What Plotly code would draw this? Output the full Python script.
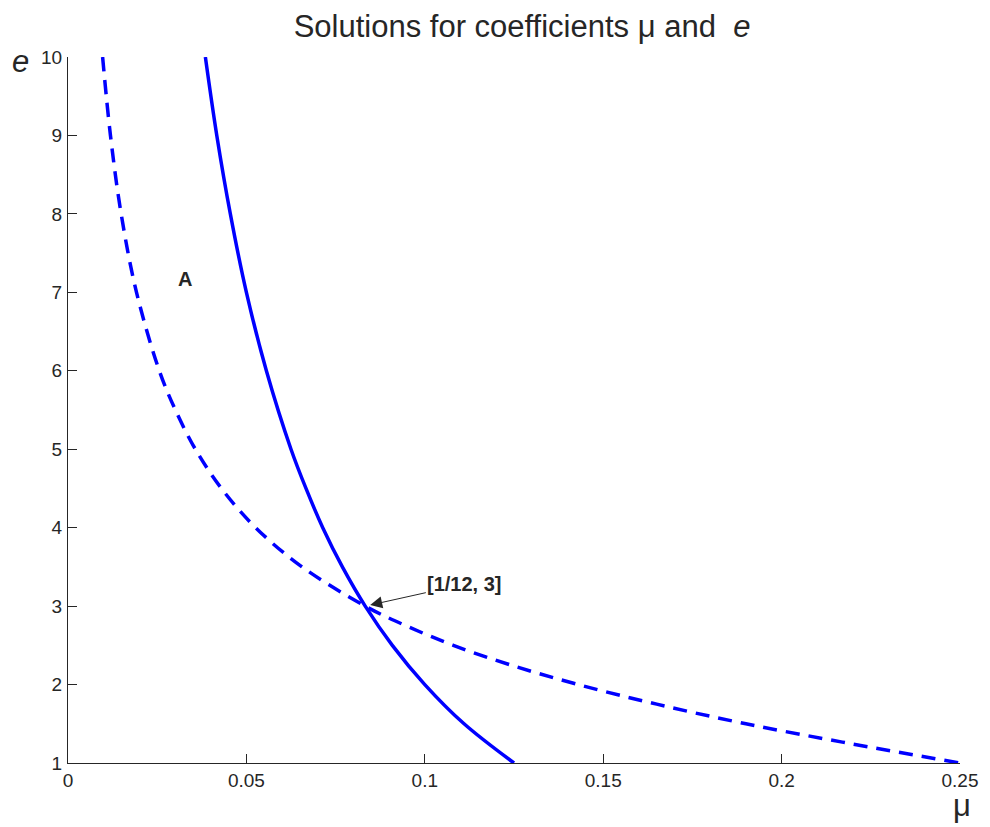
import plotly.graph_objects as go

# Dashed branch: e against mu
mu_dashed = [0.0097, 0.0119, 0.0149, 0.0192, 0.0256, 0.0301, 0.0357, 0.0430, 0.0526,
             0.0656, 0.0833, 0.0947, 0.108, 0.124, 0.143, 0.165, 0.190, 0.219, 0.250]
e_dashed = [10, 9, 8, 7, 6, 5.5, 5, 4.5, 4, 3.5, 3, 2.75, 2.5, 2.25, 2, 1.75, 1.5, 1.25, 1]

# Solid branch: e against mu
mu_solid = [0.0385, 0.0417, 0.0455, 0.0500, 0.0556, 0.0625, 0.0667, 0.0714, 0.0769,
            0.0833, 0.0909, 0.100, 0.111, 0.125]
e_solid = [10, 9, 8, 7, 6, 5, 4.5, 4, 3.5, 3, 2.5, 2, 1.5, 1]

# Intersection of the two branches
mu_cross, e_cross = 1 / 12, 3
cross_label = "[1/12, 3]"

# Region label
region_label = "A"
region_mu, region_e = 0.0329, 7.17

x_ticks = [0, 0.05, 0.1, 0.15, 0.2, 0.25]
x_tick_text = ["0", "0.05", "0.1", "0.15", "0.2", "0.25"]
y_ticks = list(range(1, 11))

BLUE = "#0000ff"
INK = "#262626"
FONT = "Liberation Sans, Arial, sans-serif"

fig = go.Figure()
fig.add_trace(go.Scatter(
    x=mu_dashed, y=e_dashed, mode="lines",
    line=dict(color=BLUE, width=3.5, dash="14px,9px", shape="spline", smoothing=1),
    showlegend=False, hoverinfo="skip"))
fig.add_trace(go.Scatter(
    x=mu_solid, y=e_solid, mode="lines",
    line=dict(color=BLUE, width=3.5, shape="spline", smoothing=1),
    showlegend=False, hoverinfo="skip"))

axis_common = dict(
    showline=True, linecolor=INK, linewidth=1, mirror=False,
    ticks="inside", ticklen=9, tickwidth=1, tickcolor=INK,
    showgrid=False, zeroline=False,
    tickfont=dict(family=FONT, size=19, color=INK),
)

fig.update_xaxes(range=[0, 0.25], tickvals=x_ticks, ticktext=x_tick_text, **axis_common)
fig.update_yaxes(range=[1, 10], tickvals=y_ticks, ticklabelstandoff=1, **axis_common)

annotations = [
    # arrow pointing at the intersection
    dict(x=mu_cross, y=e_cross, xref="x", yref="y", text="<b>" + cross_label + "</b>",
         showarrow=True, ax=99, ay=-22, arrowhead=2, arrowsize=2.4, arrowwidth=1,
         arrowcolor=INK, standoff=5, font=dict(family=FONT, size=20, color=INK)),
    dict(x=region_mu, y=region_e, xref="x", yref="y", text="<b>" + region_label + "</b>",
         showarrow=False, font=dict(family=FONT, size=20, color=INK)),
    # axis labels
    dict(x=-0.065, y=1.021, xref="paper", yref="paper", text="<i>e</i>",
         showarrow=False, font=dict(family=FONT, size=31, color=INK)),
    dict(x=1.0145, y=-0.088, xref="paper", yref="paper", text="μ",
         showarrow=False, font=dict(family=FONT, size=31, color=INK)),
]

fig.update_layout(
    width=990, height=827,
    margin=dict(l=68, r=26, t=57, b=64),
    paper_bgcolor="white", plot_bgcolor="white",
    title=dict(text="Solutions for coefficients μ and\u00a0 <i>e</i>",
               x=0.509, xref="paper", xanchor="center",
               y=0.968, yref="container", yanchor="middle",
               font=dict(family=FONT, size=31, color=INK)),
    annotations=annotations,
)

fig.write_html("out.html")
